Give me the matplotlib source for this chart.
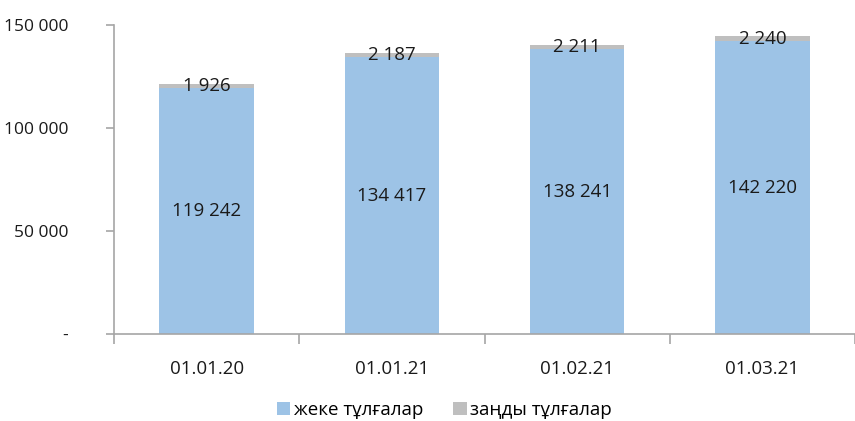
import matplotlib.pyplot as plt
from matplotlib.ticker import FuncFormatter

dates = ["01.01.20", "01.01.21", "01.02.21", "01.03.21"]
individuals = [119242, 134417, 138241, 142220]
legal_entities = [1926, 2187, 2211, 2240]
series_names = ["жеке тұлғалар", "заңды тұлғалар"]

BLUE = "#9dc3e6"
GREY = "#bfbfbf"
AXIS = "#a6a6a6"


def fmt_thousands(v, _pos=None):
    if v == 0:
        return "-"
    return f"{int(round(v)):,}".replace(",", " ")


plt.rcParams["font.family"] = ["Open Sans", "DejaVu Sans"]

fig = plt.figure(figsize=(8.55, 4.21), dpi=100)
ax = fig.add_axes([114 / 855, 87 / 421, 741 / 855, 309 / 421])

x = list(range(len(dates)))
width = 0.51
bars_ind = ax.bar(x, individuals, width, color=BLUE, label=series_names[0])
bars_leg = ax.bar(x, legal_entities, width, bottom=individuals, color=GREY, label=series_names[1])

for rect, val in zip(bars_ind, individuals):
    ax.text(rect.get_x() + rect.get_width() / 2, val / 2, fmt_thousands(val),
            ha="center", va="center", fontsize=13.5, color="#1a1a1a")
for rect, base, val in zip(bars_leg, individuals, legal_entities):
    ax.text(rect.get_x() + rect.get_width() / 2, base + val / 2, fmt_thousands(val),
            ha="center", va="center", fontsize=13.5, color="#1a1a1a")

ax.set_xlim(-0.5, len(dates) - 0.5)
ax.set_ylim(0, 150000)
ax.set_yticks([0, 50000, 100000, 150000])
ax.yaxis.set_major_formatter(FuncFormatter(fmt_thousands))
ax.set_xticks(x)
ax.set_xticklabels(dates)
ax.set_xticks([i - 0.5 for i in range(len(dates) + 1)], minor=True)

for side in ("top", "right"):
    ax.spines[side].set_visible(False)
for side in ("left", "bottom"):
    ax.spines[side].set_color(AXIS)
    ax.spines[side].set_linewidth(1.2)

ax.tick_params(axis="y", length=6, color=AXIS, width=1.2, labelsize=12.5, pad=27, labelcolor="#1a1a1a")
ax.tick_params(axis="x", which="major", length=0, labelsize=13.5, pad=19, labelcolor="#1a1a1a")
ax.tick_params(axis="x", which="minor", length=7, color=AXIS, width=1.2)

fig.legend(loc="lower center", bbox_to_anchor=(0.52, -0.035), ncol=2, frameon=False,
           fontsize=13.5, handlelength=0.7, handleheight=0.7, handletextpad=0.2,
           columnspacing=1.6)

fig.savefig("out.png", dpi=100)
